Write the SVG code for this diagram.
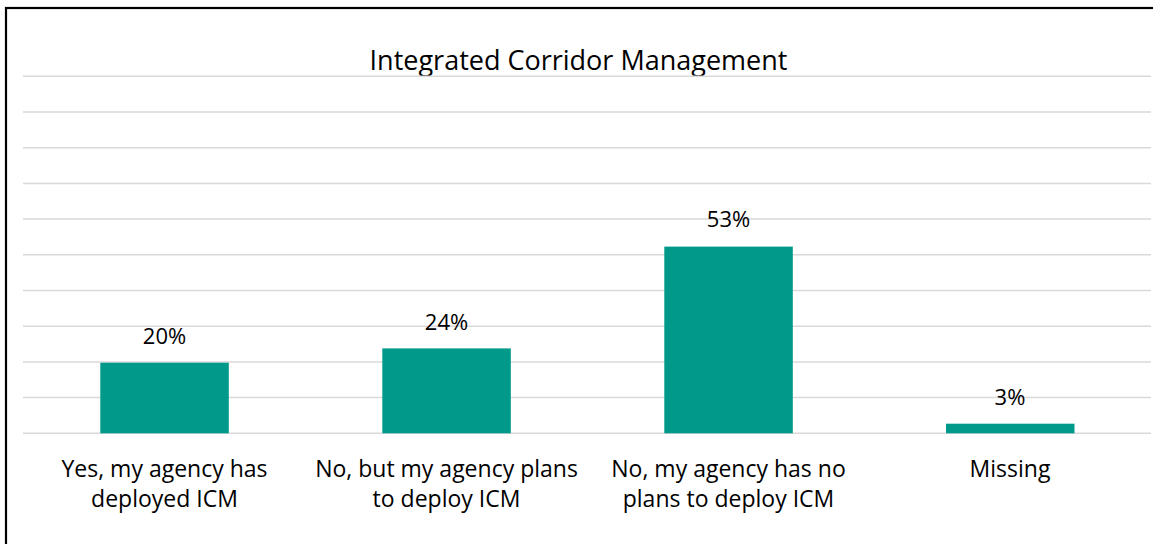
<svg xmlns="http://www.w3.org/2000/svg" width="1153" height="544" viewBox="0 0 1153 544">
  <style>
    .grid { stroke: #d9d9d9; stroke-width: 1.5; }
    .bar { fill: #00998a; }
    .title { font-family: "Open Sans", "Liberation Sans", sans-serif; font-size: 27px; fill: #000; text-anchor: middle; }
    .val { font-family: "Open Sans", "Liberation Sans", sans-serif; font-size: 22px; fill: #000; text-anchor: middle; }
    .cat { font-family: "Open Sans", "Liberation Sans", sans-serif; font-size: 23px; fill: #000; text-anchor: middle; }
  </style>
  <rect width="1153" height="544" fill="#fff"/>
  <!-- chart frame -->
  <rect x="6" y="8" width="1160" height="560" fill="none" stroke="#000" stroke-width="2.2"/>

  <text class="title" x="578.5" y="70">Integrated Corridor Management</text>

  <!-- gridlines, 10% steps -->
  <g id="gridlines">
    <line class="grid" x1="23" x2="1151" y1="76.3" y2="76.3"/>
    <line class="grid" x1="23" x2="1151" y1="112" y2="112"/>
    <line class="grid" x1="23" x2="1151" y1="147.7" y2="147.7"/>
    <line class="grid" x1="23" x2="1151" y1="183.4" y2="183.4"/>
    <line class="grid" x1="23" x2="1151" y1="219.1" y2="219.1"/>
    <line class="grid" x1="23" x2="1151" y1="254.8" y2="254.8"/>
    <line class="grid" x1="23" x2="1151" y1="290.5" y2="290.5"/>
    <line class="grid" x1="23" x2="1151" y1="326.2" y2="326.2"/>
    <line class="grid" x1="23" x2="1151" y1="361.9" y2="361.9"/>
    <line class="grid" x1="23" x2="1151" y1="397.6" y2="397.6"/>
    <line class="grid" x1="23" x2="1151" y1="433.3" y2="433.3"/>
  </g>

  <g id="bar-yes">
    <rect class="bar" x="100.3" y="362.7" width="128.5" height="70.6"/>
    <text class="val" x="164.5" y="344">20%</text>
    <text class="cat" x="164.5" y="477">Yes, my agency has</text>
    <text class="cat" x="164.5" y="507">deployed ICM</text>
  </g>

  <g id="bar-plans">
    <rect class="bar" x="382.3" y="348.4" width="128.5" height="84.9"/>
    <text class="val" x="446.5" y="329.5">24%</text>
    <text class="cat" x="446.5" y="477">No, but my agency plans</text>
    <text class="cat" x="446.5" y="507">to deploy ICM</text>
  </g>

  <g id="bar-noplans">
    <rect class="bar" x="664.3" y="246.6" width="128.5" height="186.7"/>
    <text class="val" x="728.5" y="227">53%</text>
    <text class="cat" x="728.5" y="477">No, my agency has no</text>
    <text class="cat" x="728.5" y="507">plans to deploy ICM</text>
  </g>

  <g id="bar-missing">
    <rect class="bar" x="946" y="423.7" width="128.5" height="9.6"/>
    <text class="val" x="1010" y="405">3%</text>
    <text class="cat" x="1010" y="477">Missing</text>
  </g>
</svg>
